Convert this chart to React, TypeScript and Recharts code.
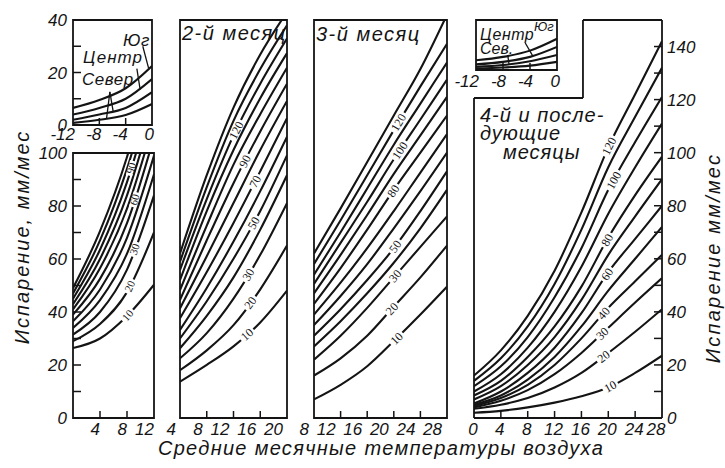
import React from 'react';
import { LineChart, Line, XAxis, YAxis, ReferenceArea, ReferenceLine, ReferenceDot } from 'recharts';

const SANS = '"Liberation Sans", Arial, sans-serif';
const SERIF = '"Liberation Serif", "DejaVu Serif", serif';
const INK = '#141414';

// ---------- inset over the 1st month: winter (-12..0 °C) ----------
const winterTemps = [-12, -8, -4, 0];
const winterSouth = [6.5, 9.5, 14, 22.5];
const winterCentre = [4, 6.5, 10, 17.5];
const winterNorth = [2, 4, 6.5, 12.5];
const winterNorthLow = [0.8, 2, 3.8, 8];
const winterTicks = [-12, -8, -4, 0];
const winterEvapTicks = [0, 10, 20, 30, 40];

// ---------- inset over the 4th and later months ----------
const winter4South = [7.8, 10.5, 15.5, 25];
const winter4Centre = [4.5, 6.5, 10.5, 18.5];
const winter4North = [2.6, 4, 7, 12];
const winter4NorthLow = [1.3, 2, 3.5, 6.5];

// ---------- 1st month ----------
const m1Temps = [0, 4, 8, 12];
const m1_10 = [26.4, 30, 38.5, 50.3];
const m1_20 = [29, 35.5, 47.5, 70];
const m1_30 = [31.5, 40, 56, 84];
const m1_40 = [34, 44.5, 62, 92];
const m1_50 = [36.5, 48.5, 68, 99];
const m1_60 = [39, 52.5, 73.5, 106];
const m1_70 = [41, 56.5, 79, 112];
const m1_80 = [43, 60, 84, 118];
const m1_90 = [45, 63.5, 89, 124];
const m1_100 = [47, 67, 94, 130];
const m1_110 = [49, 70.5, 98.5, 136];
const m1Levels = [10, 20, 30, 40, 50, 60, 70, 80, 90, 100, 110];
const m1LabelLevels = [10, 20, 30, 60, 90];
const m1LabelTemps = [8.1, 8.4, 9.1, 9.1, 8.6];
const m1TempTicks = [4, 8, 12];
const m1EvapTicks = [0, 10, 20, 30, 40, 50, 60, 70, 80, 90, 100];

// ---------- 2nd month ----------
const m2Temps = [4, 8, 12, 16, 20];
const m2_10 = [13.7, 20, 27, 36, 48];
const m2_20 = [18, 25.5, 35, 48.5, 65];
const m2_30 = [22.5, 32, 45, 61.5, 81];
const m2_40 = [26.3, 38.5, 53, 71, 91.5];
const m2_50 = [30, 44, 60, 78, 99];
const m2_60 = [33.2, 49, 66.5, 85.5, 106];
const m2_70 = [37.6, 55, 73.5, 93, 113];
const m2_80 = [41.3, 61, 81, 101, 119.5];
const m2_90 = [44.5, 67, 88.5, 108, 126];
const m2_100 = [48.2, 72.5, 95.5, 114.5, 132];
const m2_110 = [52, 78, 101, 120.5, 137.5];
const m2_120 = [55.8, 82.5, 106.5, 126, 143];
const m2_130 = [58.9, 87, 112, 131.5, 148];
const m2_140 = [62, 91.5, 117, 137, 153];
const m2Levels = [10, 20, 30, 40, 50, 60, 70, 80, 90, 100, 110, 120, 130, 140];
const m2LabelLevels = [10, 20, 30, 50, 70, 90, 120];
const m2LabelTemps = [14, 14.5, 14.2, 15, 15.2, 13.7, 12.4];
const m2TempTicks = [4, 8, 12, 16, 20];

// ---------- 3rd month ----------
const m3Temps = [8, 12, 16, 20, 24, 28];
const m3_10 = [7, 12.5, 19.5, 29, 39, 49.5];
const m3_20 = [16, 22.5, 31, 42, 53, 65];
const m3_30 = [22, 31, 41.5, 53, 64.5, 76];
const m3_40 = [27, 36.5, 47, 58.5, 71.5, 86];
const m3_50 = [31, 41, 52, 64, 78, 93];
const m3_60 = [35, 46, 58, 71.5, 85.5, 100];
const m3_70 = [39, 51, 64, 78, 92.5, 107];
const m3_80 = [43, 56.5, 71, 86, 100, 114];
const m3_90 = [47, 61.5, 76.5, 92, 106.5, 121];
const m3_100 = [50.5, 66, 81.5, 97.5, 112.5, 127.5];
const m3_110 = [54, 70, 86.5, 103, 118.5, 134];
const m3_120 = [58, 74.5, 91.5, 108.5, 125, 141];
const m3_130 = [62, 79, 96.5, 114, 131.5, 152];
const m3Levels = [10, 20, 30, 40, 50, 60, 70, 80, 90, 100, 110, 120, 130];
const m3LabelLevels = [10, 20, 30, 50, 80, 100, 120];
const m3LabelTemps = [20.4, 19.7, 20.2, 20.2, 19.9, 20.9, 20.7];
const m3TempTicks = [8, 12, 16, 20, 24, 28];

// ---------- 4th and later months ----------
const m4Temps = [0, 4, 8, 12, 16, 20, 24, 28];
const m4_10 = [2, 2.7, 4, 5.8, 8.2, 11.5, 17, 23.5];
const m4_20 = [3.5, 5, 7.5, 11.5, 17, 24.5, 32.5, 41];
const m4_30 = [4, 6.5, 10.5, 16.5, 24.5, 34, 43.5, 52.7];
const m4_40 = [4.5, 7.5, 12.5, 20, 30, 41.5, 51.5, 61.5];
const m4_50 = [5, 8.5, 14.5, 23, 34.5, 48, 60, 72];
const m4_60 = [5.5, 10, 17, 26.5, 39.5, 55, 67.5, 80];
const m4_70 = [7, 12, 20, 30.5, 44.5, 61.5, 76, 90];
const m4_80 = [8.5, 14, 23, 34.5, 49.5, 68, 84, 98.5];
const m4_90 = [10, 16.5, 26.5, 40, 57, 77, 94.5, 111];
const m4_100 = [12, 19.5, 30.5, 45.5, 64, 86, 104, 121];
const m4_110 = [14, 22.5, 34.5, 50.5, 71, 94.5, 113.5, 132];
const m4_120 = [16, 25.5, 38.5, 55.5, 77.5, 102, 122, 142];
const m4Levels = [10, 20, 30, 40, 50, 60, 70, 80, 90, 100, 110, 120];
const m4LabelLevels = [10, 20, 30, 40, 60, 80, 100, 120];
const m4LabelTemps = [20.3, 19.3, 19.1, 19.3, 19.8, 19.8, 20.8, 20.1];
const m4TempTicks = [0, 4, 8, 12, 16, 20, 24, 28];
const m4EvapTicks = [0, 10, 20, 30, 40, 50, 60, 70, 80, 90, 100, 110, 120, 130, 140];

type Curve = { level: number; values: number[] };
const pack = (levels: number[], rows: number[][]): Curve[] =>
  levels.map((level, i) => ({ level, values: rows[i] }));

const winterCurves = pack([4, 3, 2, 1], [winterSouth, winterCentre, winterNorth, winterNorthLow]);
const winter4Curves = pack([4, 3, 2, 1], [winter4South, winter4Centre, winter4North, winter4NorthLow]);
const m1Curves = pack(m1Levels, [m1_10, m1_20, m1_30, m1_40, m1_50, m1_60, m1_70, m1_80, m1_90, m1_100, m1_110]);
const m2Curves = pack(m2Levels, [m2_10, m2_20, m2_30, m2_40, m2_50, m2_60, m2_70, m2_80, m2_90, m2_100, m2_110, m2_120, m2_130, m2_140]);
const m3Curves = pack(m3Levels, [m3_10, m3_20, m3_30, m3_40, m3_50, m3_60, m3_70, m3_80, m3_90, m3_100, m3_110, m3_120, m3_130]);
const m4Curves = pack(m4Levels, [m4_10, m4_20, m4_30, m4_40, m4_50, m4_60, m4_70, m4_80, m4_90, m4_100, m4_110, m4_120]);

type Box = { x: number; y: number; w: number; h: number };
type XTickStyle = { anchor: 'start' | 'middle' | 'end'; dx: number; dy: number; lastDx?: number };

function renderXTick(p: any, domain: [number, number], st: XTickStyle) {
  const v = p.payload.value;
  const interior = v > domain[0] + 1e-6 && v < domain[1] - 1e-6;
  const isLast = Math.abs(v - domain[1]) < 1e-6;
  const dx = isLast && st.lastDx !== undefined ? st.lastDx : st.dx;
  return (
    <g>
      {interior && <line x1={p.x} x2={p.x} y1={p.y} y2={p.y - 7} stroke={INK} strokeWidth={1.5} />}
      <text x={p.x + dx} y={p.y + st.dy} textAnchor={st.anchor} fontSize={17} fontStyle="italic" fontFamily={SANS} fill={INK}>
        {String(v)}
      </text>
    </g>
  );
}

function renderYTick(p: any, domain: [number, number], side: 'left' | 'right', every: number) {
  const v = p.payload.value;
  const interior = v > domain[0] + 1e-6 && v < domain[1] - 1e-6;
  const dir = side === 'left' ? 1 : -1;
  const showLabel = v % every === 0;
  return (
    <g>
      {interior && <line x1={p.x} x2={p.x + dir * 8} y1={p.y} y2={p.y} stroke={INK} strokeWidth={1.5} />}
      {showLabel && (
        <text x={side === 'left' ? p.x - 6 : p.x + 5} y={p.y + 6} textAnchor={side === 'left' ? 'end' : 'start'} fontSize={17} fontStyle="italic" fontFamily={SANS} fill={INK}>
          {String(v)}
        </text>
      )}
    </g>
  );
}

function sampleAt(ts: number[], vs: number[], t: number) {
  let i = 0;
  while (i < ts.length - 2 && t > ts[i + 1]) i++;
  const slope = (vs[i + 1] - vs[i]) / (ts[i + 1] - ts[i]);
  return { v: vs[i] + slope * (t - ts[i]), slope };
}

const CurveLabel = ({ cx, cy, text, angle, size }: any) => {
  const w = text.length * size * 0.52 + 4;
  return (
    <g transform={`translate(${cx},${cy}) rotate(${angle})`}>
      <rect x={-w / 2} y={-3.2} width={w} height={6.4} fill="#fff" />
      <text x={0} y={0} dy="0.35em" textAnchor="middle" fontSize={size} fontFamily={SERIF} fill={INK}>
        {text}
      </text>
    </g>
  );
};

type PanelProps = {
  box: Box;
  temps: number[];
  curves: Curve[];
  xDomain: [number, number];
  yDomain: [number, number];
  xTicks: number[];
  xTick: XTickStyle;
  yAxis: 'left' | 'right' | 'none';
  yTicks?: number[];
  yEvery?: number;
  labelLevels?: number[];
  labelTemps?: number[];
  labelSize?: number;
  frame: boolean;
  extras?: React.ReactNode[];
};

function Panel(props: PanelProps) {
  const { box, temps, curves, xDomain, yDomain, xTicks, xTick, yAxis, yTicks, yEvery = 20, labelLevels = [], labelTemps = [], labelSize = 12, frame, extras = [] } = props;
  const padL = yAxis === 'left' ? 46 : 28;
  const padR = yAxis === 'right' ? 46 : 14;
  const padT = 14;
  const padB = 28;
  const W = box.w + padL + padR;
  const H = box.h + padT + padB;
  const pxPerX = box.w / (xDomain[1] - xDomain[0]);
  const pxPerY = box.h / (yDomain[1] - yDomain[0]);
  return (
    <div style={{ position: 'absolute', left: box.x - padL, top: box.y - padT, width: W, height: H }}>
      <LineChart width={W} height={H} margin={{ top: padT, right: yAxis === 'right' ? 0 : padR, bottom: 0, left: yAxis === 'left' ? 0 : padL }}>
        <XAxis type="number" dataKey="t" domain={xDomain} ticks={xTicks} interval={0} allowDataOverflow axisLine={false} tickLine={false} tickSize={0} tickMargin={0} height={padB} tick={(p: any) => renderXTick(p, xDomain, xTick)} />
        {yAxis === 'none' ? (
          <YAxis type="number" domain={yDomain} allowDataOverflow hide />
        ) : (
          <YAxis type="number" orientation={yAxis} domain={yDomain} ticks={yTicks} interval={0} allowDataOverflow axisLine={false} tickLine={false} tickSize={0} tickMargin={0} width={yAxis === 'left' ? padL : padR} tick={(p: any) => renderYTick(p, yDomain, yAxis, yEvery)} />
        )}
        {curves.map((c) => (
          <Line key={c.level} data={temps.map((t, i) => ({ t, v: c.values[i] }))} dataKey="v" type="monotone" dot={false} activeDot={false} stroke={INK} strokeWidth={2.1} isAnimationActive={false} />
        ))}
        {labelLevels.map((lv, k) => {
          const c = curves.find((cc) => cc.level === lv)!;
          const t = labelTemps[k];
          const s = sampleAt(temps, c.values, t);
          const angle = (-Math.atan((s.slope * pxPerY) / pxPerX) * 180) / Math.PI;
          return (
            <ReferenceDot key={'lab' + lv} x={t} y={s.v} r={0} shape={(p: any) => <CurveLabel cx={p.cx} cy={p.cy} text={String(lv)} angle={angle} size={labelSize} />} />
          );
        })}
        {frame && <ReferenceArea x1={xDomain[0]} x2={xDomain[1]} y1={yDomain[0]} y2={yDomain[1]} fill="none" fillOpacity={0} stroke={INK} strokeWidth={1.8} />}
        {extras}
      </LineChart>
    </div>
  );
}

const seg = (k: string, a: [number, number], b: [number, number], w = 1.3) => (
  <ReferenceLine key={k} segment={[{ x: a[0], y: a[1] }, { x: b[0], y: b[1] }]} stroke={INK} strokeWidth={w} />
);

// frame of the last panel, with the notch that holds the inset
const notchT = 16.23;
const notchV = 120.6;

export default function App() {
  const title = { fontFamily: SANS, fontStyle: 'italic' as const, fill: INK };
  return (
    <div style={{ position: 'absolute', left: 0, top: 0, width: 725, height: 468, background: '#fff', overflow: 'hidden' }}>
      <Panel
        box={{ x: 73, y: 20, w: 79, h: 105 }}
        temps={winterTemps}
        curves={winterCurves}
        xDomain={[-12, 0]}
        yDomain={[0, 40]}
        xTicks={winterTicks}
        xTick={{ anchor: 'end', dx: 2, dy: 15 }}
        yAxis="left"
        yTicks={winterEvapTicks}
        yEvery={20}
        frame
        extras={[
          seg('s1', [-1.4, 30], [-0.5, 21.5]),
          seg('c1', [-2.3, 21.5], [-1.8, 13.5]),
          seg('n1', [-6.4, 12.6], [-6.9, 2.6]),
          seg('n2', [-6.4, 12.6], [-5.9, 5.2]),
        ]}
      />
      <Panel
        box={{ x: 73, y: 153, w: 81, h: 265 }}
        temps={m1Temps}
        curves={m1Curves}
        xDomain={[0, 12]}
        yDomain={[0, 100]}
        xTicks={m1TempTicks}
        xTick={{ anchor: 'end', dx: 0, dy: 17 }}
        yAxis="left"
        yTicks={m1EvapTicks}
        yEvery={20}
        labelLevels={m1LabelLevels}
        labelTemps={m1LabelTemps}
        labelSize={11}
        frame
      />
      <Panel
        box={{ x: 180, y: 20, w: 107, h: 398 }}
        temps={m2Temps}
        curves={m2Curves}
        xDomain={[4, 20]}
        yDomain={[0, 150]}
        xTicks={m2TempTicks}
        xTick={{ anchor: 'end', dx: -4, dy: 17 }}
        yAxis="none"
        labelLevels={m2LabelLevels}
        labelTemps={m2LabelTemps}
        frame
      />
      <Panel
        box={{ x: 314, y: 20, w: 133, h: 398 }}
        temps={m3Temps}
        curves={m3Curves}
        xDomain={[8, 28]}
        yDomain={[0, 150]}
        xTicks={m3TempTicks}
        xTick={{ anchor: 'end', dx: -5, dy: 17 }}
        yAxis="none"
        labelLevels={m3LabelLevels}
        labelTemps={m3LabelTemps}
        frame
      />
      <Panel
        box={{ x: 474, y: 20, w: 188, h: 398 }}
        temps={m4Temps}
        curves={m4Curves}
        xDomain={[0, 28]}
        yDomain={[0, 150]}
        xTicks={m4TempTicks}
        xTick={{ anchor: 'middle', dx: -1, dy: 17, lastDx: -6 }}
        yAxis="right"
        yTicks={m4EvapTicks}
        yEvery={20}
        labelLevels={m4LabelLevels}
        labelTemps={m4LabelTemps}
        frame={false}
        extras={[
          seg('f1', [0, 0], [0, notchV], 1.8),
          seg('f2', [0, notchV], [notchT, notchV], 1.8),
          seg('f3', [notchT, notchV], [notchT, 150], 1.8),
          seg('f4', [notchT, 150], [28, 150], 1.8),
          seg('f5', [28, 150], [28, 0], 1.8),
          seg('f6', [28, 0], [0, 0], 1.8),
        ]}
      />
      <Panel
        box={{ x: 476, y: 20, w: 81, h: 50 }}
        temps={winterTemps}
        curves={winter4Curves}
        xDomain={[-12, 0]}
        yDomain={[0, 40]}
        xTicks={winterTicks}
        xTick={{ anchor: 'end', dx: 3, dy: 17 }}
        yAxis="none"
        frame
        extras={[seg('c4', [-4.7, 21.6], [-3.6, 11.3]), seg('n4', [-7.3, 12], [-7.1, 4.5])]}
      />
      <svg width={725} height={468} style={{ position: 'absolute', left: 0, top: 0, pointerEvents: 'none' }}>
        <text {...title} fontSize={20} letterSpacing={2} textAnchor="middle" transform="translate(29,237) rotate(-90)">
          Испарение, мм/мес
        </text>
        <text {...title} fontSize={20} letterSpacing={2.2} textAnchor="middle" transform="translate(720,258) rotate(-90)">
          Испарение мм/мес
        </text>
        <text {...title} fontSize={20} letterSpacing={1.3} textAnchor="middle" x={381} y={455}>
          Средние месячные температуры воздуха
        </text>
        <text {...title} fontSize={20} letterSpacing={1.5} x={182} y={40}>2-й месяц</text>
        <text {...title} fontSize={20} letterSpacing={1.5} x={316} y={41}>3-й месяц</text>
        <text {...title} fontSize={20} letterSpacing={1} x={480} y={122}>4-й и после-</text>
        <text {...title} fontSize={20} letterSpacing={1} x={480} y={140}>дующие</text>
        <text {...title} fontSize={20} letterSpacing={1} x={503} y={159}>месяцы</text>
        <text {...title} fontSize={17} letterSpacing={0.5} x={123} y={46}>Юг</text>
        <text {...title} fontSize={17} letterSpacing={1} x={83} y={63}>Центр</text>
        <text {...title} fontSize={17} letterSpacing={0.5} x={82} y={85}>Север</text>
        <text {...title} fontSize={16} letterSpacing={0.5} x={480} y={40}>Центр</text>
        <text {...title} fontSize={16} x={480} y={54}>Сев.</text>
        <text {...title} fontSize={13} x={534} y={31}>Юг</text>
      </svg>
    </div>
  );
}
